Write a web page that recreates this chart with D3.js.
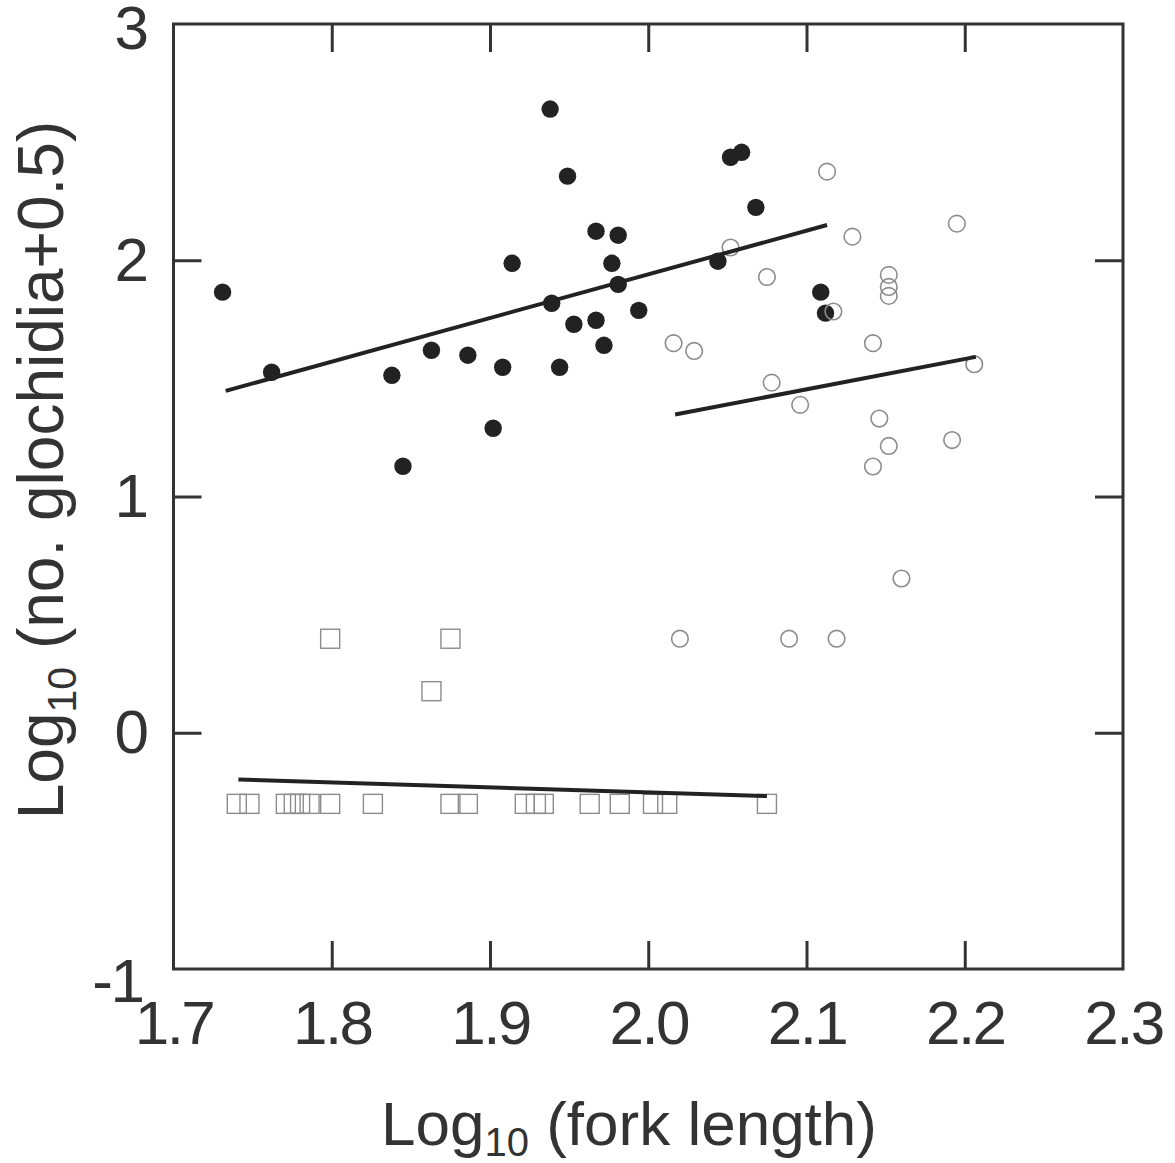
<!DOCTYPE html>
<html>
<head>
<meta charset="utf-8">
<script src="https://cdn.jsdelivr.net/npm/d3@7"></script>
<style>
  body { margin: 0; background: #fff; }
  svg text { font-family: "Liberation Sans", Arial, sans-serif; fill: #333; }
</style>
</head>
<body>
<svg id="chart" width="1175" height="1163"></svg>
<script>
// filled circles
const filledX = [1.731, 1.762, 1.838, 1.845, 1.863, 1.886, 1.902, 1.908, 1.914, 1.938, 1.939, 1.944,
  1.949, 1.953, 1.967, 1.967, 1.972, 1.977, 1.981, 1.981, 1.994, 2.044, 2.052, 2.059, 2.068, 2.109, 2.112]
const filledY = [1.865, 1.526, 1.513, 1.128, 1.619, 1.598, 1.289, 1.547, 1.987, 2.640, 1.818, 1.547,
  2.356, 1.729, 2.123, 1.746, 1.640, 1.987, 2.106, 1.898, 1.788, 1.996, 2.436, 2.457, 2.224, 1.865, 1.776]

// open circles
const openX = [2.113, 2.052, 2.129, 2.195, 2.075, 2.152, 2.152, 2.152, 2.117, 2.016, 2.029, 2.142,
  2.206, 2.078, 2.096, 2.146, 2.152, 2.192, 2.142, 2.160, 2.020, 2.089, 2.119]
const openY = [2.375, 2.054, 2.100, 2.155, 1.929, 1.938, 1.887, 1.849, 1.783, 1.649, 1.616, 1.649,
  1.560, 1.482, 1.388, 1.330, 1.214, 1.239, 1.127, 0.653, 0.398, 0.398, 0.398]

// open squares
const squareX = [1.740, 1.748, 1.771, 1.776, 1.780, 1.786, 1.799, 1.826, 1.875, 1.886, 1.922, 1.929,
  1.934, 1.963, 1.982, 2.003, 2.012, 2.075, 1.799, 1.875, 1.863]
const squareY = [-0.301, -0.301, -0.301, -0.301, -0.301, -0.301, -0.301, -0.301, -0.301, -0.301, -0.301, -0.301,
  -0.301, -0.301, -0.301, -0.301, -0.301, -0.301, 0.398, 0.398, 0.176]

// fitted lines [x1, y1, x2, y2]
const fitFilled = [1.733, 1.447, 2.113, 2.149]
const fitOpen = [2.017, 1.347, 2.207, 1.591]
const fitSquare = [1.741, -0.198, 2.075, -0.268]

const xTicks = [1.7, 1.8, 1.9, 2.0, 2.1, 2.2, 2.3]
const yTicks = [-1, 0, 1, 2, 3]

const svg = d3.select("#chart")
const x = d3.scaleLinear().domain([1.7, 2.3]).range([173.5, 1123])
const y = d3.scaleLinear().domain([-1, 3]).range([969, 24])
const tickLen = 28
const fontSize = 62

// frame
svg.append("rect")
  .attr("x", x(1.7)).attr("y", y(3))
  .attr("width", x(2.3) - x(1.7)).attr("height", y(-1) - y(3))
  .attr("fill", "none").attr("stroke", "#333").attr("stroke-width", 3)

function styleAxis(g) {
  g.select(".domain").remove()
  g.selectAll(".tick line").attr("stroke", "#333").attr("stroke-width", 3)
  g.selectAll("text").attr("font-size", fontSize).attr("fill", "#333")
    .attr("letter-spacing", -2.5)
    .attr("font-family", "Liberation Sans, Arial, sans-serif")
}

const xInner = xTicks.slice(1, -1)
const yInner = yTicks.slice(1, -1)

svg.append("g").attr("transform", `translate(0,${y(-1)})`)
  .call(d3.axisBottom(x).tickValues(xTicks).tickSize(-tickLen).tickPadding(31).tickFormat(d3.format(".1f")))
  .call(styleAxis)
  .call(g => g.selectAll(".tick line").filter(d => !xInner.includes(d)).remove())

svg.append("g").attr("transform", `translate(${x(1.7)},0)`)
  .call(d3.axisLeft(y).tickValues(yTicks).tickSize(-tickLen).tickPadding(27).tickFormat(d => String(d)))
  .call(styleAxis)
  .call(g => g.selectAll(".tick line").filter(d => !yInner.includes(d)).remove())
  .call(g => g.selectAll(".tick text").filter(d => d === -1).attr("dy", "0.52em").attr("x", -31))
  .call(g => g.selectAll(".tick text").filter(d => d === 3).attr("dy", "0.4em"))

svg.append("g").attr("transform", `translate(0,${y(3)})`)
  .call(d3.axisTop(x).tickValues(xInner).tickSize(-tickLen).tickFormat(""))
  .call(styleAxis)

svg.append("g").attr("transform", `translate(${x(2.3)},0)`)
  .call(d3.axisRight(y).tickValues(yInner).tickSize(-tickLen).tickFormat(""))
  .call(styleAxis)

// points
svg.append("g").selectAll("circle")
  .data(d3.zip(filledX, filledY))
  .join("circle")
  .attr("cx", d => x(d[0])).attr("cy", d => y(d[1]))
  .attr("r", 8.7).attr("fill", "#222")

svg.append("g").selectAll("circle")
  .data(d3.zip(openX, openY))
  .join("circle")
  .attr("cx", d => x(d[0])).attr("cy", d => y(d[1]))
  .attr("r", 8.3).attr("fill", "none")
  .attr("stroke", "#8c8c8c").attr("stroke-width", 1.6)

const sq = 19
svg.append("g").selectAll("rect")
  .data(d3.zip(squareX, squareY))
  .join("rect")
  .attr("x", d => x(d[0]) - sq / 2).attr("y", d => y(d[1]) - sq / 2)
  .attr("width", sq).attr("height", sq)
  .attr("fill", "none").attr("stroke", "#8c8c8c").attr("stroke-width", 1.4)

// fitted lines
svg.append("g").selectAll("line")
  .data([fitFilled, fitOpen, fitSquare])
  .join("line")
  .attr("x1", d => x(d[0])).attr("y1", d => y(d[1]))
  .attr("x2", d => x(d[2])).attr("y2", d => y(d[3]))
  .attr("stroke", "#222").attr("stroke-width", 4)

// axis titles
const xTitle = svg.append("text")
  .attr("x", 629).attr("y", 1145)
  .attr("text-anchor", "middle").attr("font-size", 62)
xTitle.append("tspan").text("Log")
xTitle.append("tspan").attr("font-size", 40).attr("dy", 11).text("10")
xTitle.append("tspan").attr("dy", -11).text(" (fork length)")

const yTitle = svg.append("text")
  .attr("transform", "translate(63,470) rotate(-90)")
  .attr("text-anchor", "middle").attr("font-size", 64)
yTitle.append("tspan").text("Log")
yTitle.append("tspan").attr("font-size", 41).attr("dy", 13).text("10")
yTitle.append("tspan").attr("dy", -13).text(" (no. glochidia+0.5)")
</script>
</body>
</html>
